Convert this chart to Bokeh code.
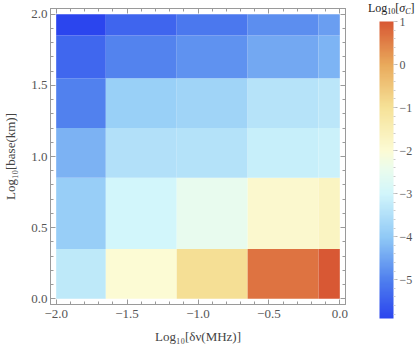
import numpy as np
from bokeh.plotting import figure
from bokeh.models import (ColumnDataSource, LinearColorMapper, ColorBar, LinearAxis,
                          SingleIntervalTicker, FixedTicker, Range1d, Div)
from bokeh.embed import file_html
from bokeh.resources import INLINE

# ---------------- data ----------------
# bin edges
dnu_edges = [-2.0, -1.65, -1.15, -0.65, -0.15, 0.0]        # Log10[δν(MHz)]
base_edges = [0.0, 0.35, 0.85, 1.2, 1.55, 1.85, 2.0]       # Log10[base(km)]

# Log10[σ_C] per cell, one list per base bin (bottom to top), columns left to right
sigma_base_0 = [-3.3, -2.0, -0.95, 0.65, 1.0]
sigma_base_1 = [-3.9, -3.0, -2.5, -1.9, -1.72]
sigma_base_2 = [-4.32, -3.5, -3.47, -3.17, -3.1]
sigma_base_3 = [-4.98, -3.86, -3.75, -3.43, -3.34]
sigma_base_4 = [-5.37, -4.95, -4.76, -4.45, -4.3]
sigma_base_5 = [-5.9, -5.4, -5.1, -4.8, -4.6]

x_ticks = [-2.0, -1.5, -1.0, -0.5, 0.0]
x_tick_labels = ["\u22122.0", "\u22121.5", "\u22121.0", "\u22120.5", "0.0"]
y_ticks = [0.0, 0.5, 1.0, 1.5, 2.0]
y_tick_labels = ["0.0", "0.5", "1.0", "1.5", "2.0"]
cb_ticks = [-5, -4, -3, -2, -1, 0, 1]
cb_tick_labels = ["\u22125", "\u22124", "\u22123", "\u22122", "\u22121", "0", "1"]
cb_title_html = ("Log<sub style='font-size:8px;vertical-align:-2px;line-height:0'>10</sub>"
                 "[<i>\u03c3</i><sub style='font-size:8px;vertical-align:-2px;line-height:0'>"
                 "<i>C</i></sub>]")

# ---------------- colour map (TemperatureMap-like) ----------------
anchor_t = [0.0, 0.1304, 0.2754, 0.4203, 0.5072, 0.5652, 0.7101, 0.8551, 1.0]
anchor_rgb = [(43, 69, 238), (80, 128, 238), (145, 202, 246), (210, 246, 251),
              (236, 252, 236), (252, 251, 212), (246, 226, 152), (233, 170, 92),
              (216, 88, 52)]
palette = []
for k in range(256):
    t = k / 255
    ch = [np.interp(t, anchor_t, [c[i] for c in anchor_rgb]) for i in range(3)]
    palette.append("#%02x%02x%02x" % tuple(int(round(v)) for v in ch))

rows = [sigma_base_0, sigma_base_1, sigma_base_2, sigma_base_3, sigma_base_4, sigma_base_5]
cells = dict(left=[], right=[], bottom=[], top=[], v=[])
for j, r in enumerate(rows):
    for i, val in enumerate(r):
        cells["left"].append(dnu_edges[i])
        cells["right"].append(dnu_edges[i + 1])
        cells["bottom"].append(base_edges[j])
        cells["top"].append(base_edges[j + 1])
        cells["v"].append(val)
src = ColumnDataSource(cells)
all_vals = [v for r in rows for v in r]
mapper = LinearColorMapper(palette=palette, low=min(all_vals), high=max(all_vals))

FONT = "Liberation Serif"
FRAME = "#9a9a9a"
TXT = "#555555"

p = figure(x_range=Range1d(-2.04, 0.04), y_range=Range1d(-0.04, 2.04),
           frame_width=295, frame_height=296,
           min_border_left=43, min_border_right=72, min_border_top=8, min_border_bottom=45,
           output_backend="svg", toolbar_location=None,
           x_axis_label="Log\u2081\u2080[\u03b4\u03bd(MHz)]",
           y_axis_label="Log\u2081\u2080[base(km)]")
p.grid.visible = False
p.outline_line_color = FRAME
p.background_fill_color = "white"
p.border_fill_color = "white"

p.quad(left="left", right="right", bottom="bottom", top="top", source=src,
       fill_color={"field": "v", "transform": mapper}, line_color=None)


def style_ticks(ax):
    ax.axis_line_color = FRAME
    ax.major_tick_line_color = FRAME
    ax.minor_tick_line_color = FRAME
    ax.major_tick_in = 5
    ax.major_tick_out = 0
    ax.minor_tick_in = 3
    ax.minor_tick_out = 0


for ax, ticks, labels in ((p.xaxis[0], x_ticks, x_tick_labels),
                          (p.yaxis[0], y_ticks, y_tick_labels)):
    ax.ticker = SingleIntervalTicker(interval=0.5, num_minor_ticks=5)
    ax.major_label_overrides = dict(zip(ticks, labels))
    style_ticks(ax)
    ax.major_label_text_font = FONT
    ax.major_label_text_color = TXT
    ax.major_label_text_font_size = "13px"
    ax.axis_label_text_font = FONT
    ax.axis_label_text_font_size = "13px"
    ax.axis_label_text_font_style = "normal"
    ax.axis_label_text_color = "#444444"

p.xaxis[0].major_label_standoff = 5
p.xaxis[0].axis_label_standoff = 8
p.yaxis[0].major_label_standoff = 3
p.yaxis[0].axis_label_standoff = 10

# frame ticks on the top and right edges (no labels)
for side, ticks in (("above", x_ticks), ("right", y_ticks)):
    lo, hi = ticks[0], ticks[-1]
    fine = [round(lo + 0.1 * k, 1) for k in range(int(round((hi - lo) / 0.1)) + 1)]
    for pos, length in ((fine, 3), (ticks, 5)):
        ax = LinearAxis(ticker=FixedTicker(ticks=[], minor_ticks=pos),
                        major_label_standoff=0)
        style_ticks(ax)
        ax.minor_tick_in = length
        p.add_layout(ax, side)

cb = ColorBar(color_mapper=mapper,
              ticker=SingleIntervalTicker(interval=1, num_minor_ticks=5),
              major_label_overrides=dict(zip(cb_ticks, cb_tick_labels)),
              location=(34, -14), width=14, height=297, margin=0, padding=0,
              bar_line_color=None, border_line_color=None, background_fill_color=None,
              major_tick_in=0, major_tick_out=4, minor_tick_in=0, minor_tick_out=2,
              major_tick_line_color="#b5b5b5", minor_tick_line_color="#cccccc",
              label_standoff=2,
              major_label_text_font=FONT, major_label_text_font_size="12px",
              major_label_text_color=TXT)
p.add_layout(cb, "right")

# colour-bar title, placed over the top right corner of the page
cb_title = Div(text=cb_title_html,
               styles={"position": "absolute", "left": "368px", "top": "1px",
                       "font-family": "'Liberation Serif', serif", "font-size": "12px",
                       "line-height": "14px", "color": "#222222", "white-space": "nowrap",
                       "margin": "0", "padding": "0"})

open("out.html", "w").write(file_html([p, cb_title], INLINE))
